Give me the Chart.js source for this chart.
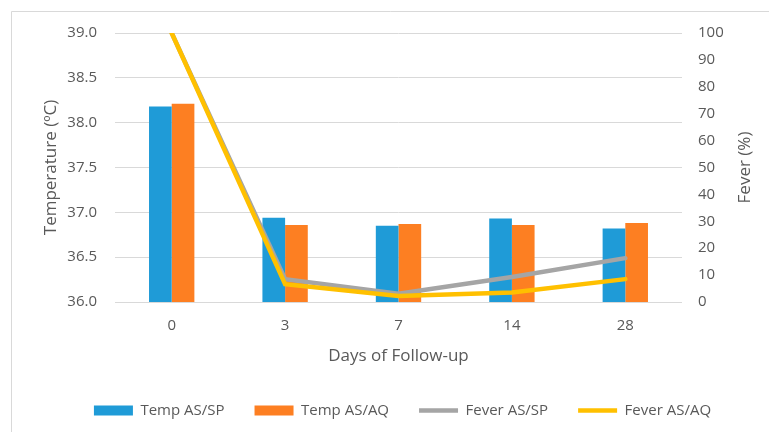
<!DOCTYPE html>
<html>
<head>
<meta charset="utf-8">
<script src="https://cdn.jsdelivr.net/npm/chart.js@4"></script>
<style>
  html, body { margin: 0; padding: 0; background: #fff; overflow: hidden; }
  #wrap { position: relative; width: 769px; height: 432px; }
</style>
</head>
<body>
<div id="wrap"><canvas id="feverChart"></canvas></div>
<script>
// data
const days = ['0', '3', '7', '14', '28'];
const tempSP = [38.18, 36.94, 36.85, 36.93, 36.82];
const tempAQ = [38.21, 36.86, 36.87, 36.86, 36.88];
const feverSP = [100, 8.5, 3.1, 9.3, 16.3];
const feverAQ = [100, 6.6, 2.2, 3.5, 8.5];

const textColor = '#595959';
const gridColor = '#d9d9d9';
Chart.defaults.font.family = "'Open Sans', sans-serif";
Chart.defaults.color = textColor;

// light frame round the chart + right axis title reading bottom-to-top (Excel style)
const framePlugin = {
    id: 'frame',
    beforeDraw(chart) {
        const c = chart.ctx;
        c.save();
        c.fillStyle = '#fff';
        c.fillRect(0, 0, chart.width, chart.height);
        c.strokeStyle = gridColor;
        c.lineWidth = 1;
        c.beginPath();
        c.moveTo(11.5, chart.height);
        c.lineTo(11.5, 11.5);
        c.lineTo(chart.width, 11.5);
        c.stroke();
        c.restore();
    },
    afterDraw(chart) {
        const c = chart.ctx;
        const area = chart.chartArea;
        c.save();
        c.translate(745, (area.top + area.bottom) / 2);
        c.rotate(-Math.PI / 2);
        c.font = "17px 'Open Sans', sans-serif";
        c.fillStyle = textColor;
        c.textAlign = 'center';
        c.textBaseline = 'middle';
        c.fillText('Fever (%)', 0, 0);
        c.restore();
    }
};

const ctx = document.getElementById('feverChart').getContext('2d');
const feverChart = new Chart(ctx, {
    type: 'bar',
    data: {
        labels: days,
        datasets: [
            { label: 'Temp AS/SP', data: tempSP, backgroundColor: '#1f9bd7', yAxisID: 'y', order: 2, pointStyle: 'rect' },
            { label: 'Temp AS/AQ', data: tempAQ, backgroundColor: '#fd7f22', yAxisID: 'y', order: 2, pointStyle: 'rect' },
            { type: 'line', label: 'Fever AS/SP', data: feverSP, borderColor: '#a5a5a5', backgroundColor: '#a5a5a5',
              borderWidth: 4.5, pointRadius: 0, borderCapStyle: 'round', yAxisID: 'y1', order: 1, pointStyle: 'line' },
            { type: 'line', label: 'Fever AS/AQ', data: feverAQ, borderColor: '#ffc000', backgroundColor: '#ffc000',
              borderWidth: 4.5, pointRadius: 0, borderCapStyle: 'round', yAxisID: 'y1', order: 0, pointStyle: 'line' }
        ]
    },
    options: {
        responsive: true,
        maintainAspectRatio: false,
        animation: false,
        categoryPercentage: 0.4,
        barPercentage: 1,
        layout: { padding: { top: 33, left: 36, right: 0, bottom: 4 } },
        plugins: {
            tooltip: { enabled: false },
            legend: {
                position: 'bottom',
                labels: {
                    usePointStyle: true,
                    pointStyleWidth: 39,
                    boxHeight: 10,
                    padding: 30,
                    color: textColor,
                    font: { size: 15 },
                    sort: (a, b) => a.datasetIndex - b.datasetIndex
                }
            }
        },
        scales: {
            x: {
                grid: { display: false, drawTicks: false },
                border: { display: false },
                ticks: { padding: 15, font: { size: 15 } },
                title: { display: true, text: 'Days of Follow-up', font: { size: 17 }, padding: { top: 0, bottom: 7 } },
                afterFit: (s) => { s.height = 71; }
            },
            y: {
                position: 'left',
                min: 36,
                max: 39,
                ticks: { stepSize: 0.5, padding: 18, font: { size: 15 }, callback: (v) => v.toFixed(1) },
                grid: { color: gridColor, drawTicks: false },
                border: { display: false },
                title: { display: true, text: 'Temperature (ºC)', font: { size: 17 }, padding: { top: 5, bottom: 0 } },
                afterFit: (s) => { s.width = 79; }
            },
            y1: {
                position: 'right',
                min: 0,
                max: 100,
                ticks: { stepSize: 10, padding: 16, font: { size: 15 } },
                grid: { drawOnChartArea: false, drawTicks: false },
                border: { display: false },
                afterFit: (s) => { s.width = 87; }
            }
        }
    },
    plugins: [framePlugin]
});
</script>
</body>
</html>
